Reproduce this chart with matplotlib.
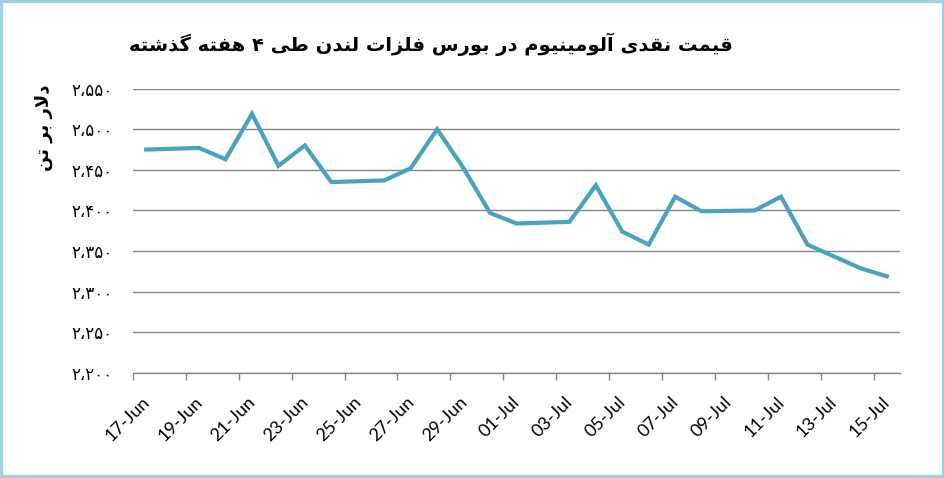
import numpy as np
import pandas as pd
import matplotlib
matplotlib.use('Agg')
import matplotlib.pyplot as plt
from matplotlib.patches import Rectangle
from matplotlib.transforms import ScaledTranslation

# --- data ---
dates = ['2021-06-17', '2021-06-19', '2021-06-20', '2021-06-21', '2021-06-22',
         '2021-06-23', '2021-06-24', '2021-06-26', '2021-06-27', '2021-06-28',
         '2021-06-29', '2021-06-30', '2021-07-01', '2021-07-03', '2021-07-04',
         '2021-07-05', '2021-07-06', '2021-07-07', '2021-07-08', '2021-07-10',
         '2021-07-11', '2021-07-12', '2021-07-14', '2021-07-15']
prices = [2475, 2477, 2463, 2519, 2455, 2480, 2435, 2437, 2452, 2500,
          2452, 2397, 2384, 2386, 2431, 2374, 2358, 2417, 2399, 2400,
          2417, 2358, 2329, 2319]

x_labels = ['17-Jun', '19-Jun', '21-Jun', '23-Jun', '25-Jun', '27-Jun', '29-Jun',
            '01-Jul', '03-Jul', '05-Jul', '07-Jul', '09-Jul', '11-Jul', '13-Jul', '15-Jul']
y_ticks = [2200, 2250, 2300, 2350, 2400, 2450, 2500, 2550]

title = 'قیمت نقدی آلومینیوم در بورس فلزات لندن طی ۴ هفته گذشته'
y_title = 'دلار بر تن'

# --- minimal Persian shaping (matplotlib draws glyphs left to right, unjoined) ---
# dual-joining letters: (isolated, final, initial, medial)
DUAL = {
    'ب': '\uFE8F\uFE90\uFE91\uFE92', 'ت': '\uFE95\uFE96\uFE97\uFE98',
    'س': '\uFEB1\uFEB2\uFEB3\uFEB4', 'ش': '\uFEB5\uFEB6\uFEB7\uFEB8',
    'ط': '\uFEC1\uFEC2\uFEC3\uFEC4', 'ف': '\uFED1\uFED2\uFED3\uFED4',
    'ق': '\uFED5\uFED6\uFED7\uFED8', 'ل': '\uFEDD\uFEDE\uFEDF\uFEE0',
    'م': '\uFEE1\uFEE2\uFEE3\uFEE4', 'ن': '\uFEE5\uFEE6\uFEE7\uFEE8',
    'ه': '\uFEE9\uFEEA\uFEEB\uFEEC', 'ی': '\uFBFC\uFBFD\uFBFE\uFBFF',
    'گ': '\uFB92\uFB93\uFB94\uFB95',
}
# right-joining letters: (isolated, final)
RIGHT = {
    'ا': '\uFE8D\uFE8E', 'آ': '\uFE81\uFE82', 'د': '\uFEA9\uFEAA',
    'ذ': '\uFEAB\uFEAC', 'ر': '\uFEAD\uFEAE', 'ز': '\uFEAF\uFEB0',
    'و': '\uFEED\uFEEE',
}
LAM_ALEF = {'ا': '\uFEFB\uFEFC', 'آ': '\uFEF5\uFEF6'}


def shape(text):
    out = []
    i = 0
    n = len(text)
    while i < n:
        c = text[i]
        prev = text[i - 1] if i > 0 else ''
        nxt = text[i + 1] if i + 1 < n else ''
        joins_prev = prev in DUAL
        if c == 'ل' and nxt in LAM_ALEF:
            out.append(LAM_ALEF[nxt][1 if joins_prev else 0])
            i += 2
            continue
        if c in DUAL:
            joins_next = nxt in DUAL or nxt in RIGHT
            f = DUAL[c]
            if joins_prev and joins_next:
                out.append(f[3])
            elif joins_prev:
                out.append(f[1])
            elif joins_next:
                out.append(f[2])
            else:
                out.append(f[0])
        elif c in RIGHT:
            out.append(RIGHT[c][1 if joins_prev else 0])
        else:
            out.append(c)
        i += 1
    return ''.join(reversed(out))


def fa_number(v):
    s = f'{v:,}'
    return s.translate(str.maketrans('0123456789,', '۰۱۲۳۴۵۶۷۸۹،'))


# --- positions: one slot per calendar day ---
start = pd.Timestamp('2021-06-17')
days = (pd.to_datetime(dates) - start).days.values
label_pos = np.arange(0, 2 * len(x_labels), 2)

fig = plt.figure(figsize=(9.45, 4.78), dpi=100)
ax = fig.add_axes([0.1407, 0.2197, 0.8117, 0.5949])

ax.plot(days, prices, color='#4AA3BE', linewidth=3.0, solid_joinstyle='miter')

ax.set_xlim(-0.5, 28.5)
ax.set_ylim(2200, 2550)
ax.set_yticks(y_ticks)
ax.set_yticklabels([fa_number(v) for v in y_ticks], family=['DejaVu Sans'], fontsize=12)
ax.yaxis.grid(True, color='#868686', linewidth=1.0)
ax.set_axisbelow(True)
ax.tick_params(axis='y', length=0, pad=15, colors='black')

# tick marks on day boundaries, labels under every second day
ax.set_xticks(np.arange(-0.5, 28.6, 2))
ax.set_xticklabels([])
ax.tick_params(axis='x', which='major', length=5, color='#868686', width=1.0, direction='out')
ax.set_xticks(label_pos, minor=True)
ax.set_xticklabels(x_labels, minor=True, rotation=45, ha='right',
                   rotation_mode='anchor', fontsize=13, family='Lato')
ax.tick_params(axis='x', which='minor', length=0, pad=15)
shift = ScaledTranslation(-5 / 100, 0, fig.dpi_scale_trans)
for lbl in ax.get_xticklabels(minor=True):
    lbl.set_transform(lbl.get_transform() + shift)

for side in ['top', 'left', 'right']:
    ax.spines[side].set_visible(False)
ax.spines['bottom'].set_color('#868686')
ax.spines['bottom'].set_linewidth(1.0)

fig.text(431 / 945, 1 - 44 / 478, shape(title), ha='center', va='center',
         fontsize=14, fontweight='bold', family=['DejaVu Sans'])
fig.text(44 / 945, 1 - 128 / 478, shape(y_title), ha='center', va='center',
         rotation=90, fontsize=13, fontweight='bold', family=['DejaVu Sans'])

fig.patches.append(Rectangle((0, 0), 1, 1, transform=fig.transFigure, fill=False,
                             edgecolor='#9ED0E0', linewidth=4.5, zorder=10))

fig.savefig('out.png', dpi=100)
